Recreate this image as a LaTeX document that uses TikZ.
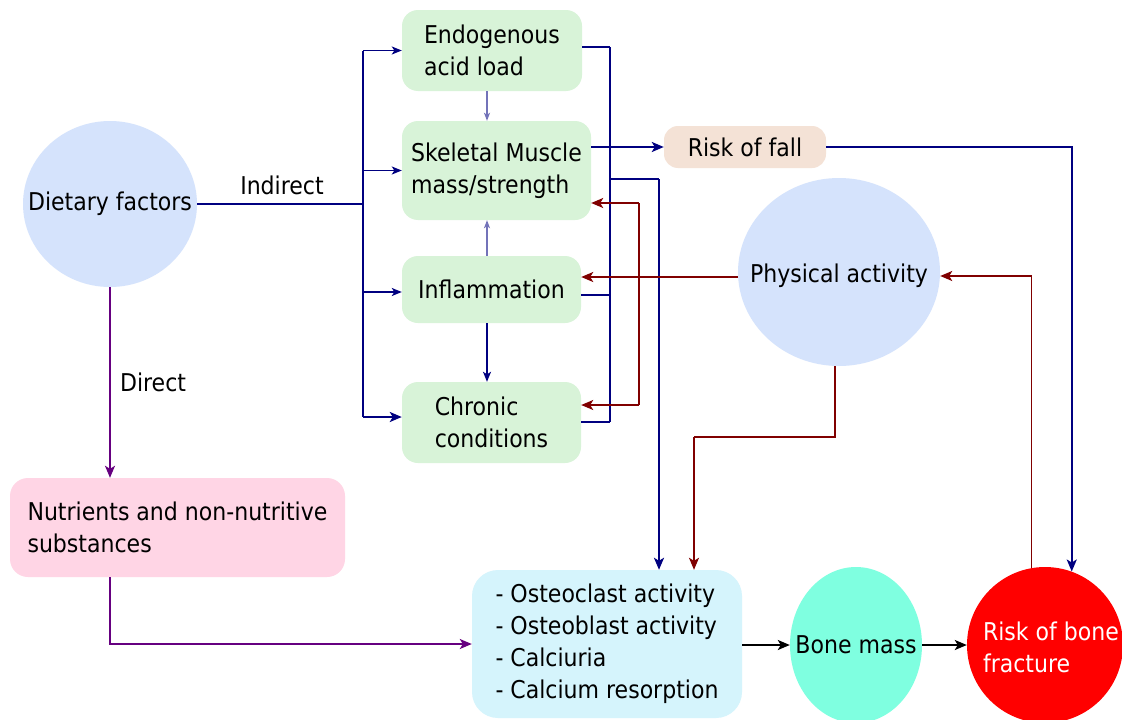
\documentclass[tikz,border=0pt]{standalone}
\usepackage{fontspec}
\IfFontExistsTF{DejaVu Sans Condensed}{\setmainfont{DejaVu Sans Condensed}}{\setmainfont{Liberation Sans}}
\usetikzlibrary{shapes.geometric,arrows.meta}
\definecolor{navyc}{RGB}{0,0,128}
\definecolor{darkredc}{RGB}{128,0,0}
\definecolor{purpc}{RGB}{102,0,128}
\definecolor{circblue}{RGB}{213,227,252}
\definecolor{greenbox}{RGB}{216,243,216}
\definecolor{fallc}{RGB}{244,226,214}
\definecolor{pinkc}{RGB}{255,213,229}
\definecolor{cyanc}{RGB}{213,244,252}
\definecolor{aquac}{RGB}{127,255,224}
\begin{document}
\begin{tikzpicture}[x=1pt,y=-1pt,
  every node/.style={font=\fontsize{24.5}{32}\selectfont, inner sep=0pt, text=black},
  gbox/.style={rectangle, rounded corners=16pt, fill=greenbox, align=left},
  shapeell/.style={ellipse, draw=none, inner sep=0pt},
  tip/.style={-{Stealth[length=12pt,width=10pt,inset=3pt]}},
  midtip/.style={-{Stealth[length=10pt,width=8pt,inset=2.5pt]}},
  smalltip/.style={-{Stealth[length=8pt,width=6pt,inset=2pt]}},
  nvthin/.style={draw=navyc, line width=1.3pt},
  nvthick/.style={draw=navyc, line width=2.2pt},
  drline/.style={draw=darkredc, line width=1.7pt},
  puline/.style={draw=purpc, line width=1.6pt},
  bkline/.style={draw=black, line width=2pt}
]
\useasboundingbox (0,0) rectangle (1122,720);
\fill[white] (0,0) rectangle (1122,720);

% ---- nodes ----
\node[shapeell, fill=circblue, minimum width=174, minimum height=166] (diet) at (110,204) {};
\node at (diet.center) (dietT) {Dietary factors};

\node[gbox, minimum width=180, minimum height=81] (endo) at (492,50.5) {Endogenous\\acid load};
\node[gbox, minimum width=189, minimum height=99] (skel) at (496.5,170.5) {Skeletal Muscle\\mass/strength};
\node[gbox, minimum width=179, minimum height=67] (infl) at (491.5,289.5) {Inflammation};
\node[gbox, minimum width=179, minimum height=81] (chron) at (491.5,422.5) {Chronic\\conditions};

\node[rectangle, rounded corners=14pt, fill=fallc, minimum width=162, minimum height=42] (fall) at (745,147) {Risk of fall};

\node[shapeell, fill=circblue, minimum width=202, minimum height=188] (phys) at (839,272) {};
\node at (839,276) (physT) {Physical activity};

\node[rectangle, rounded corners=18pt, fill=pinkc, align=left, minimum width=335, minimum height=99] (nutr) at (177.5,527.5) {Nutrients and non-nutritive\\substances};

\node[rectangle, rounded corners=26pt, fill=cyanc, align=left, minimum width=270, minimum height=148] (osteo) at (607,644) {- Osteoclast activity\\- Osteoblast activity\\- Calciuria\\- Calcium resorption};

\node[shapeell, fill=aquac, minimum width=132, minimum height=156] (bone) at (856,645) {};
\node at (bone.center) (boneT) {Bone mass};

\node[circle, fill=red, minimum size=156, inner sep=0pt] (frac) at (1045,645) {};
\node[align=left, text=white] at (1051,647) (fracT) {Risk of bone\\fracture};

\node at (282,185) (indirect) {Indirect};
\node at (153,382) (direct) {Direct};

% ---- helper coordinates ----
\coordinate (tl) at (363,204);
\coordinate (cx) at (487,0);
\coordinate (r1) at (610,47);
\coordinate (r2) at (610,422);
\coordinate (r3) at (610,179);
\coordinate (r4) at (659,179);
\coordinate (jr) at (639,203);
\coordinate (jr2) at (639,405);
\coordinate (p1) at (835,437);
\coordinate (p2) at (694,437);
\coordinate (hy) at (0,277);

% ---- left indirect tree ----
\draw[nvthick] (diet.east) -- (tl);
\draw[nvthin] (tl |- endo.west) -- ([yshift=5.5pt]tl |- chron.west);
\draw[nvthin, midtip] (tl |- endo.west) -- (endo.west);
\draw[nvthin, midtip] (tl |- skel.west) -- (skel.west);
\draw[nvthin, midtip] ([yshift=-2.5pt]tl |- infl.west) -- ([yshift=-2.5pt]infl.west);
\draw[nvthick, tip] ([yshift=5.5pt]tl |- chron.west) -- ([yshift=5.5pt]chron.west);

% ---- vertical links between green boxes ----
\draw[draw=navyc!55, line width=1.2pt, smalltip] (cx |- endo.south) -- (cx |- skel.north);
\draw[draw=navyc!55, line width=1.2pt, smalltip] (cx |- infl.north) -- (cx |- skel.south);
\draw[nvthin, midtip] (cx |- infl.south) -- (cx |- chron.north);

% ---- right navy collector ----
\draw[nvthick] (endo.east |- r1) -- (r1);
\draw[nvthin] (r1) -- (r2);
\draw[nvthick] ([yshift=-5.5pt]infl.east) -- ([yshift=-5.5pt]r1 |- infl.east);
\draw[nvthick] (chron.east |- r2) -- (r2);
\draw[nvthick] (r3) -- (r4);
\draw[nvthick, tip] (r4) -- (r4 |- osteo.north);

% ---- risk of fall ----
\draw[nvthick, tip] (skel.east |- fall.west) -- (fall.west);
\draw[nvthick, tip] (fall.east) -| (frac.70);

% ---- physical activity (dark red) ----
\draw[drline, line width=2pt, tip] (phys.west |- hy) -- (infl.east |- hy);
\draw[drline] (jr) -- (jr2);
\draw[drline, tip] (jr) -- (skel.east |- jr);
\draw[drline, tip] (jr2) -- (chron.east |- jr2);
\draw[drline] (phys.south -| p1) -- (p1) -- (p2);
\draw[drline, tip] (p2) -- (p2 |- osteo.north);
\draw[drline, tip] (frac.100) |- (phys.east |- physT);

% ---- direct path (purple) ----
\draw[puline, tip] (diet.south) -- (diet.south |- nutr.north);
\draw[puline, tip] (diet.south |- nutr.south) |- (osteo.west);

% ---- bone chain ----
\draw[bkline, tip] (osteo.east |- bone.west) -- (bone.west);
\draw[bkline, tip] (bone.east) -- (frac.west);
\end{tikzpicture}
\end{document}
